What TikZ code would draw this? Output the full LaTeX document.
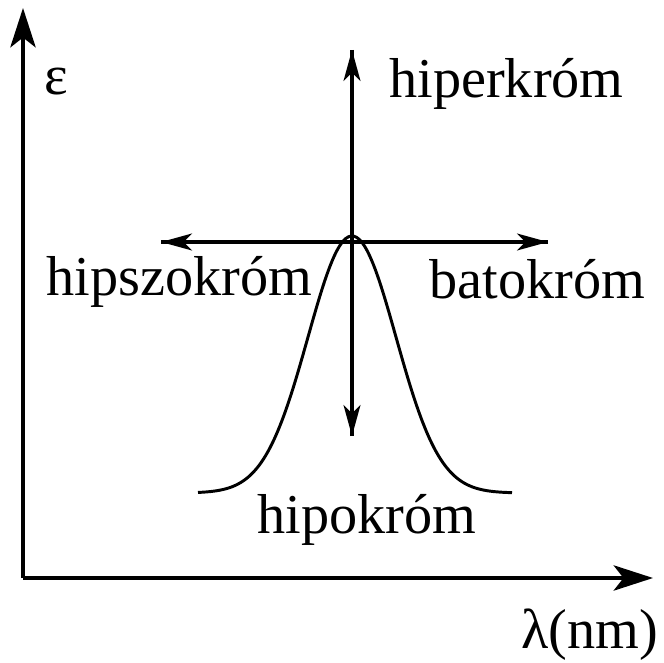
\documentclass[tikz,border=0pt]{standalone}
\usepackage{fontspec}
\setmainfont{Liberation Serif}
\usetikzlibrary{arrows.meta, calc, positioning}

\begin{document}
\begin{tikzpicture}[x=0.025cm, y=-0.025cm,
    axis/.style={line width=2.8pt, -{Stealth[length=28pt, width=18pt, inset=7pt]}},
    shiftarrow/.style={line width=2.4pt, -{Stealth[length=22pt, width=12pt, inset=6pt]}},
    lbl/.style={anchor=base west, inner sep=0pt, font=\fontsize{40}{48}\selectfont}]
        \useasboundingbox (0,0) rectangle (664,663);

        % Coordinates
        \coordinate (o) at (23,578);
        \coordinate (ytip) at (23,8);
        \coordinate (xtip) at (653,578);
        \coordinate (vtop) at (352,50);
        \coordinate (vbot) at (352,436);
        \coordinate (hl) at (161,242);
        \coordinate (hr) at (548,242);

        % Band
        \draw[line width=2.1pt] plot[domain=198:512, samples=120, smooth]
            (\x, {493-257*exp(-0.5*((\x-352)/44)^2)});

        % Axes
        \draw[axis] (o) -- (ytip);
        \draw[axis] (o) -- (xtip);

        % Shift arrows
        \draw[shiftarrow] (hr) -- (hl);
        \draw[shiftarrow] (hl) -- (hr);
        \draw[shiftarrow] (vbot) -- (vtop);
        \draw[shiftarrow] (vtop) -- (vbot);

        % Labels
        \node[lbl] (eps) at (44,95) {ε};
        \node[lbl] (lam) at (521,648) {λ(nm)};
        \node[lbl] (hiper) at (389,98) {hiperkróm};
        \node[lbl] (hipsz) at (46,295) {hipszokróm};
        \node[lbl] (bato) at (429,298) {batokróm};
        \node[lbl] (hipo) at (257,533) {hipokróm};
    \end{tikzpicture}
\end{document}
